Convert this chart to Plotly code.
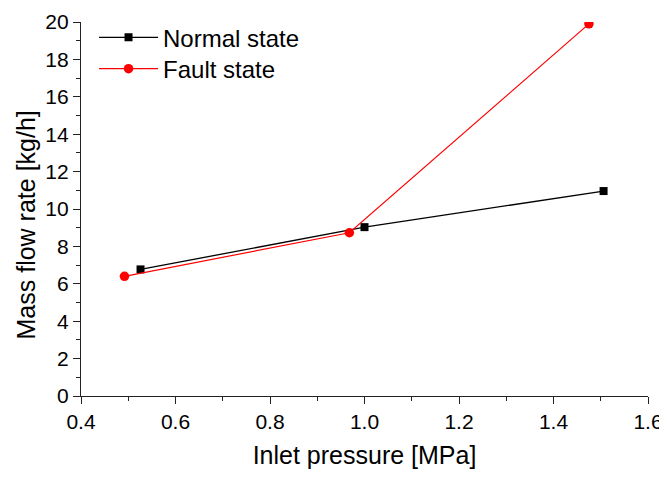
import plotly.graph_objects as go

normal_x = [0.526, 1.0, 1.506]
normal_y = [6.77, 9.03, 10.96]
fault_x = [0.492, 0.968, 1.475]
fault_y = [6.40, 8.73, 19.9]

FONT = "Liberation Sans, Arial, sans-serif"

fig = go.Figure()
fig.add_trace(go.Scatter(
    x=normal_x, y=normal_y, mode="lines+markers", name="Normal state",
    line=dict(color="black", width=1.3),
    marker=dict(symbol="square", size=8, color="black"),
    legend="legend", showlegend=True,
))
fig.add_trace(go.Scatter(
    x=fault_x, y=fault_y, mode="lines+markers", name="Fault state",
    line=dict(color="#ff0000", width=1.2),
    marker=dict(symbol="circle", size=9.5, color="#ff0000"),
    legend="legend2", showlegend=True,
))

axis_common = dict(
    showgrid=False, zeroline=False, showline=True, linecolor="#222222", linewidth=1.3,
    ticks="outside", ticklen=7, tickwidth=1.3, tickcolor="#222222",
    tickfont=dict(family=FONT, size=21, color="black"),
    mirror=False, automargin=False,
)

fig.update_xaxes(
    range=[0.4, 1.6], dtick=0.2, tick0=0.4, tickformat=".1f",
    minor=dict(dtick=0.1, ticks="outside", ticklen=4, tickwidth=1.3, tickcolor="#222222"),
    title=dict(text="Inlet pressure [MPa]", font=dict(family=FONT, size=25, color="black"), standoff=14),
    **axis_common,
)
fig.update_yaxes(
    range=[0, 20], dtick=2,
    minor=dict(dtick=1, ticks="outside", ticklen=4, tickwidth=1.3, tickcolor="#222222"),
    **axis_common,
)

fig.add_annotation(
    text="Mass flow rate [kg/h]", textangle=-90,
    xref="paper", x=0, xanchor="center", xshift=-55,
    yref="y", y=9.12, yanchor="middle",
    showarrow=False, font=dict(family=FONT, size=25, color="black"),
)

leg_common = dict(xanchor="left", yanchor="middle", bgcolor="rgba(0,0,0,0)",
                  font=dict(family=FONT, size=24, color="black"), itemwidth=59)

fig.update_layout(
    width=659, height=464,
    margin=dict(l=73, r=19, t=13.5, b=76.3, autoexpand=False),
    plot_bgcolor="white", paper_bgcolor="white",
    font=dict(family=FONT, color="black"),
    showlegend=True,
    legend=dict(x=0.023, y=0.958, **leg_common),
    legend2=dict(x=0.023, y=0.874, **leg_common),
)

fig.write_html("out.html")
